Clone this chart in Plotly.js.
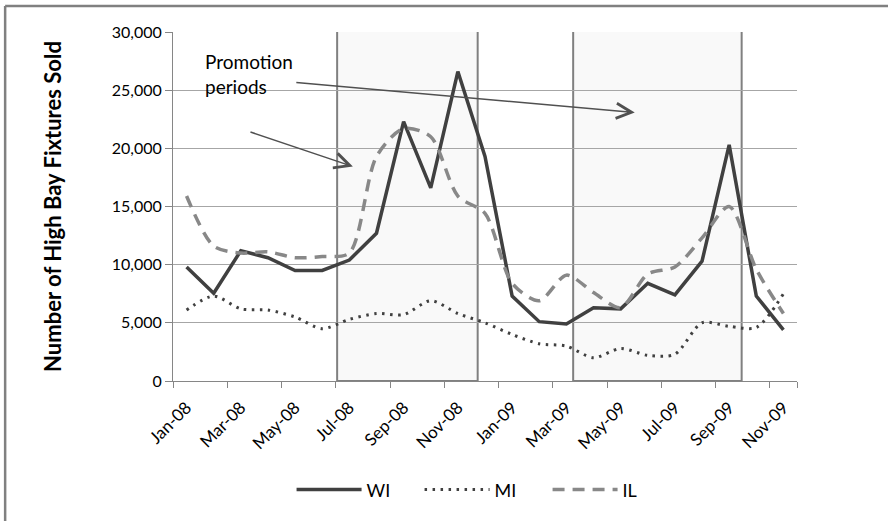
<!DOCTYPE html>
<html>
<head>
<meta charset="utf-8">
<script src="https://cdn.plot.ly/plotly-3.0.1.min.js"></script>
<style>
html,body{margin:0;padding:0;background:#fff;overflow:hidden;}
#chart{width:888px;height:521px;}
</style>
</head>
<body>
<div id="chart"></div>
<script>
const months = ['Jan-08','Feb-08','Mar-08','Apr-08','May-08','Jun-08','Jul-08','Aug-08','Sep-08','Oct-08','Nov-08','Dec-08',
                'Jan-09','Feb-09','Mar-09','Apr-09','May-09','Jun-09','Jul-09','Aug-09','Sep-09','Oct-09','Nov-09'];
const seriesNames = ['WI','MI','IL'];
const wiValues = [9800,7550,11200,10600,9500,9500,10400,12700,22300,16600,26600,19300,7300,5100,4900,6300,6200,8400,7400,10300,20300,7300,4400];
const miValues = [6100,7300,6200,6100,5500,4500,5300,5800,5700,6900,5800,5000,4000,3200,3000,2000,2800,2200,2300,5000,4700,4600,7500];
const ilValues = [15900,11600,11000,11100,10600,10700,11000,19300,21700,21000,15900,14400,8400,6900,9100,7600,6300,9200,9800,12300,15000,9600,5800];
const yTickVals = [0,5000,10000,15000,20000,25000,30000];
const yTickText = ['0','5,000','10,000','15,000','20,000','25,000','30,000'];
const xTickLabels = months.filter((m,i)=>i%2===0);
const promoPeriods = [[5.55,10.73],[14.25,20.46]];
const promoTop = 30300;
const yTitle = 'Number of High Bay Fixtures Sold';
const noteText = 'Promotion<br>periods';

const traces = [
  {x: months, y: wiValues, name: seriesNames[0], type:'scatter', mode:'lines',
   line:{color:'#404040', width:3.5}},
  {x: months, y: miValues, name: seriesNames[1], type:'scatter', mode:'lines',
   line:{color:'#404040', width:3, dash:'2.5px,5.5px', shape:'spline', smoothing:0.8}},
  {x: months, y: ilValues, name: seriesNames[2], type:'scatter', mode:'lines',
   line:{color:'#888888', width:3.5, dash:'12px,8px', shape:'spline', smoothing:0.8}}
];

const shapes = promoPeriods.map(p => ({
  type:'rect', xref:'x', yref:'y', x0:p[0], x1:p[1], y0:0, y1:promoTop,
  fillcolor:'#f9f9f9', line:{color:'#808080', width:2}, layer:'below'
}));
shapes.push({type:'line', xref:'paper', yref:'paper', x0:-0.269, x1:-0.269, y0:-0.45, y1:1.0745,
  line:{color:'#808080', width:2.5}, layer:'below'});
shapes.push({type:'line', xref:'paper', yref:'paper', x0:-0.269, x1:1.15, y0:1.0745, y1:1.0745,
  line:{color:'#808080', width:2.5}, layer:'below'});

const annotations = [
  {xref:'x', yref:'y', x:0.62, y:28600, text:noteText, showarrow:false, xanchor:'left', yanchor:'top',
   align:'left', font:{family:'Lato, sans-serif', size:19, color:'#000'}},
  {xref:'x', yref:'y', axref:'x', ayref:'y', x:16.52, y:23083, ax:3.99, ay:25667, text:'',
   showarrow:true, arrowhead:5, arrowsize:2, arrowwidth:1.5, arrowcolor:'#505050'},
  {xref:'x', yref:'y', axref:'x', ayref:'y', x:6.13, y:18432, ax:2.30, ay:21446, text:'',
   showarrow:true, arrowhead:5, arrowsize:2, arrowwidth:1.5, arrowcolor:'#505050'}
];

const layout = {
  width:888, height:521,
  margin:{l:173, r:91, t:32, b:140, autoexpand:false},
  paper_bgcolor:'#fff', plot_bgcolor:'rgba(0,0,0,0)',
  showlegend:true,
  legend:{orientation:'h', x:0.19, xanchor:'left', y:-0.312, yanchor:'middle', itemwidth:65,
          entrywidth:48, entrywidthmode:'pixels',
          font:{family:'Lato, sans-serif', size:18, color:'#000'}, traceorder:'normal'},
  xaxis:{type:'category', range:[-0.5,22.5], tickmode:'array', tickvals:xTickLabels, ticktext:xTickLabels,
         tickson:'boundaries', ticks:'outside', ticklen:6, tickcolor:'#868686', tickwidth:1,
         showline:true, linecolor:'#868686', linewidth:1, showgrid:false, zeroline:false,
         tickangle:-45, ticklabelstandoff:9, tickfont:{family:'Lato, sans-serif', size:17, color:'#000'}},
  yaxis:{range:[0,30000], tickmode:'array', tickvals:yTickVals, ticktext:yTickText,
         ticks:'outside', ticklen:7, tickcolor:'#868686', showline:true, linecolor:'#868686', linewidth:1,
         showgrid:true, gridcolor:'#a6a6a6', gridwidth:1, zeroline:false,
         tickfont:{family:'Lato, sans-serif', size:16, color:'#000'},
         title:{text:yTitle, standoff:44, font:{family:'Lato, sans-serif', size:22, color:'#000', weight:'bold'}}},
  shapes:shapes, annotations:annotations
};

Plotly.newPlot('chart', traces, layout, {displayModeBar:false, staticPlot:true});
</script>
</body>
</html>
